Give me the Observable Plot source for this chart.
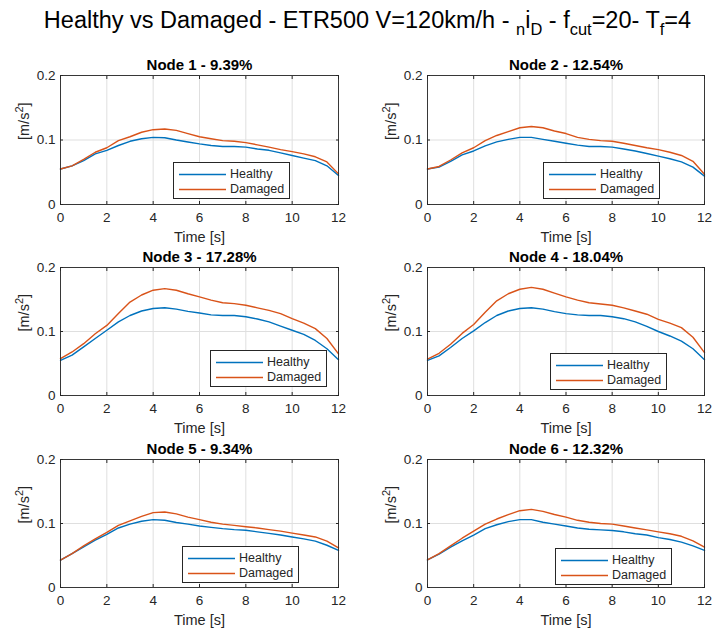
<!DOCTYPE html>
<html><head><meta charset="utf-8">
<script src="https://cdn.jsdelivr.net/npm/d3@7"></script>
<script src="https://cdn.jsdelivr.net/npm/@observablehq/plot@0.6"></script>
<style>
body{margin:0;background:#fff;font-family:"Liberation Sans",Arial,Helvetica,sans-serif;}
#root{position:relative;width:715px;height:632px;overflow:hidden;background:#fff}
.panel{position:absolute}
.legend{position:absolute;background:#fff;border:1px solid #262626;box-sizing:border-box;font-size:12.5px;color:#262626}
.legend .row{position:absolute;left:0;height:15px;width:100%}
.legend svg{position:absolute;left:0;top:0}
.legend span{position:absolute;left:56px;top:0;line-height:15px;white-space:nowrap}
#title{position:absolute;top:8px;left:367.5px;transform:translateX(-50%);font-size:23.5px;line-height:24px;color:#000;white-space:nowrap}
#title sub{font-size:0.7em;vertical-align:-0.4em;line-height:0}
</style></head><body>
<div id="root"><div id="title">Healthy vs Damaged - ETR500 V=120km/h - <sub>n</sub>i<sub>D</sub> - f<sub>cut</sub>=20- T<sub>f</sub>=4</div></div>
<script>
// ---------- data ----------
const time = [0, 0.5, 1, 1.5, 2, 2.5, 3, 3.5, 4, 4.5, 5, 5.5, 6, 6.5, 7, 7.5, 8, 8.5, 9, 9.5, 10, 10.5, 11, 11.5, 12];
const seriesNames = ["Healthy", "Damaged"];
const seriesColors = ["#0072BD", "#D95319"];
const panelTitles = ["Node 1 - 9.39%", "Node 2 - 12.54%", "Node 3 - 17.28%", "Node 4 - 18.04%", "Node 5 - 9.34%", "Node 6 - 12.32%"];
const xTicks = [0, 2, 4, 6, 8, 10, 12];
const yTicks = [0, 0.1, 0.2];
const xLabel = "Time [s]";
const yLabelParts = ["[m/s", "2", "]"];

const node1Healthy = [0.055, 0.060, 0.068, 0.0785, 0.084, 0.0915, 0.098, 0.102, 0.104, 0.1035, 0.100, 0.097, 0.094, 0.0915, 0.090, 0.090, 0.089, 0.086, 0.084, 0.080, 0.076, 0.072, 0.068, 0.060, 0.045];
const node1Damaged = [0.055, 0.060, 0.070, 0.081, 0.088, 0.099, 0.105, 0.112, 0.116, 0.117, 0.115, 0.110, 0.105, 0.102, 0.099, 0.098, 0.096, 0.0925, 0.089, 0.085, 0.082, 0.0785, 0.074, 0.066, 0.0475];
const node2Healthy = [0.055, 0.058, 0.067, 0.077, 0.083, 0.091, 0.097, 0.101, 0.104, 0.104, 0.101, 0.098, 0.095, 0.092, 0.090, 0.090, 0.089, 0.086, 0.083, 0.079, 0.075, 0.071, 0.066, 0.058, 0.044];
const node2Damaged = [0.055, 0.059, 0.069, 0.080, 0.088, 0.099, 0.107, 0.113, 0.119, 0.121, 0.119, 0.114, 0.110, 0.104, 0.101, 0.099, 0.098, 0.095, 0.0915, 0.088, 0.085, 0.081, 0.076, 0.067, 0.047];
const node3Healthy = [0.055, 0.063, 0.076, 0.089, 0.102, 0.115, 0.125, 0.132, 0.136, 0.137, 0.135, 0.1315, 0.129, 0.126, 0.125, 0.125, 0.123, 0.1195, 0.115, 0.1085, 0.102, 0.0955, 0.086, 0.073, 0.056];
const node3Damaged = [0.0575, 0.068, 0.081, 0.0965, 0.1095, 0.128, 0.146, 0.157, 0.1645, 0.167, 0.1645, 0.159, 0.154, 0.149, 0.145, 0.1435, 0.141, 0.137, 0.133, 0.128, 0.120, 0.113, 0.1045, 0.089, 0.065];
const node4Healthy = [0.055, 0.062, 0.075, 0.089, 0.101, 0.114, 0.125, 0.132, 0.136, 0.137, 0.135, 0.131, 0.128, 0.126, 0.125, 0.125, 0.123, 0.120, 0.115, 0.108, 0.100, 0.093, 0.085, 0.073, 0.056];
const node4Damaged = [0.057, 0.066, 0.080, 0.097, 0.111, 0.130, 0.148, 0.159, 0.166, 0.169, 0.166, 0.160, 0.154, 0.149, 0.145, 0.143, 0.141, 0.137, 0.132, 0.127, 0.119, 0.113, 0.106, 0.091, 0.067];
const node5Healthy = [0.0427, 0.053, 0.0635, 0.074, 0.083, 0.093, 0.099, 0.1035, 0.106, 0.105, 0.1015, 0.099, 0.096, 0.094, 0.092, 0.0905, 0.0895, 0.087, 0.0845, 0.082, 0.079, 0.076, 0.0725, 0.066, 0.058];
const node5Damaged = [0.0427, 0.053, 0.065, 0.076, 0.086, 0.097, 0.104, 0.111, 0.117, 0.118, 0.115, 0.110, 0.106, 0.102, 0.099, 0.097, 0.095, 0.093, 0.0905, 0.088, 0.085, 0.082, 0.079, 0.0725, 0.062];
const node6Healthy = [0.043, 0.052, 0.063, 0.073, 0.082, 0.092, 0.098, 0.103, 0.106, 0.106, 0.102, 0.099, 0.096, 0.093, 0.091, 0.090, 0.089, 0.087, 0.084, 0.082, 0.078, 0.075, 0.071, 0.065, 0.058];
const node6Damaged = [0.043, 0.053, 0.065, 0.077, 0.088, 0.099, 0.107, 0.114, 0.120, 0.122, 0.119, 0.114, 0.110, 0.105, 0.102, 0.100, 0.099, 0.096, 0.093, 0.090, 0.087, 0.084, 0.080, 0.073, 0.063];

const healthySeries = [node1Healthy, node2Healthy, node3Healthy, node4Healthy, node5Healthy, node6Healthy];
const damagedSeries = [node1Damaged, node2Damaged, node3Damaged, node4Damaged, node5Damaged, node6Damaged];

// ---------- layout (pixels) ----------
const colLeft = [60, 427], colWidth = [278, 277];
const rowTop = [75, 267, 459], rowHeight = [129, 128, 128];
const legendPos = [[173, 162], [543, 162], [210, 350], [550, 353], [182, 546], [555, 548]];
const mL = 60, mR = 10, mT = 30, mB = 45;
const font = '"Liberation Sans", Arial, Helvetica, sans-serif';
const axisColor = "#262626";
const yLabelText = yLabelParts.join("");

const root = document.getElementById("root");

panelTitles.forEach((title, k) => {
  const col = k % 2, row = Math.floor(k / 2);
  const w = colWidth[col], h = rowHeight[row];
  const data = time.flatMap((t, i) => [
    {t, v: healthySeries[k][i], s: seriesNames[0]},
    {t, v: damagedSeries[k][i], s: seriesNames[1]}
  ]);
  const chart = Plot.plot({
    width: w + mL + mR, height: h + mT + mB,
    marginLeft: mL, marginRight: mR, marginTop: mT, marginBottom: mB,
    style: {fontFamily: font, fontSize: "13.5px", color: axisColor, background: "transparent", overflow: "visible"},
    x: {domain: [0, 12]},
    y: {domain: [0, 0.2]},
    color: {domain: seriesNames, range: seriesColors},
    marks: [
      Plot.gridX(xTicks, {stroke: "#dfdfdf", strokeOpacity: 1}),
      Plot.gridY(yTicks, {stroke: "#dfdfdf", strokeOpacity: 1}),
      Plot.line(data, {x: "t", y: "v", z: "s", stroke: "s", strokeWidth: 1.4}),
      Plot.frame({stroke: axisColor, strokeWidth: 0.9}),
      Plot.axisX(xTicks, {anchor: "bottom", tickSize: -3, tickPadding: 11, label: null, stroke: axisColor}),
      Plot.axisX(xTicks, {anchor: "top", tickSize: -3, tickFormat: () => "", label: null, stroke: axisColor}),
      Plot.axisY(yTicks, {anchor: "left", tickSize: -3, tickPadding: 8, tickFormat: d => d === 0 ? "0" : String(d), label: null, stroke: axisColor}),
      Plot.axisY(yTicks, {anchor: "right", tickSize: -3, tickFormat: () => "", label: null, stroke: axisColor}),
      Plot.text([title], {frameAnchor: "top", lineAnchor: "middle", dy: -10, fontWeight: "bold", fontSize: 15, fill: "#000"}),
      Plot.text([xLabel], {frameAnchor: "bottom", lineAnchor: "middle", dy: 33, fontSize: 14.5, fill: axisColor}),
      Plot.text([yLabelText], {frameAnchor: "left", lineAnchor: "middle", dx: -36, rotate: -90, fontSize: 14.5, fill: axisColor})
    ]
  });
  // superscript for the unit label
  chart.querySelectorAll("text").forEach(el => {
    if (el.textContent === yLabelText) {
      el.textContent = "";
      const ns = "http://www.w3.org/2000/svg";
      const a = document.createElementNS(ns, "tspan"); a.textContent = yLabelParts[0];
      const b = document.createElementNS(ns, "tspan"); b.textContent = yLabelParts[1];
      b.setAttribute("dy", "-6"); b.setAttribute("font-size", "11");
      const c = document.createElementNS(ns, "tspan"); c.textContent = yLabelParts[2];
      c.setAttribute("dy", "6");
      el.append(a, b, c);
    }
  });
  chart.classList.add("panel");
  chart.style.left = (colLeft[col] - mL) + "px";
  chart.style.top = (rowTop[row] - mT) + "px";
  root.appendChild(chart);

  // legend box
  const leg = document.createElement("div");
  leg.className = "legend";
  leg.style.left = legendPos[k][0] + "px";
  leg.style.top = legendPos[k][1] + "px";
  leg.style.width = "117px";
  leg.style.height = "37px";
  seriesNames.forEach((name, j) => {
    const r = document.createElement("div");
    r.className = "row";
    r.style.top = (4 + j * 15) + "px";
    r.innerHTML = `<svg width="56" height="15"><line x1="5" x2="52" y1="7.5" y2="7.5" stroke="${seriesColors[j]}" stroke-width="1.4"/></svg><span>${name}</span>`;
    leg.appendChild(r);
  });
  root.appendChild(leg);
});
</script>
</body></html>
